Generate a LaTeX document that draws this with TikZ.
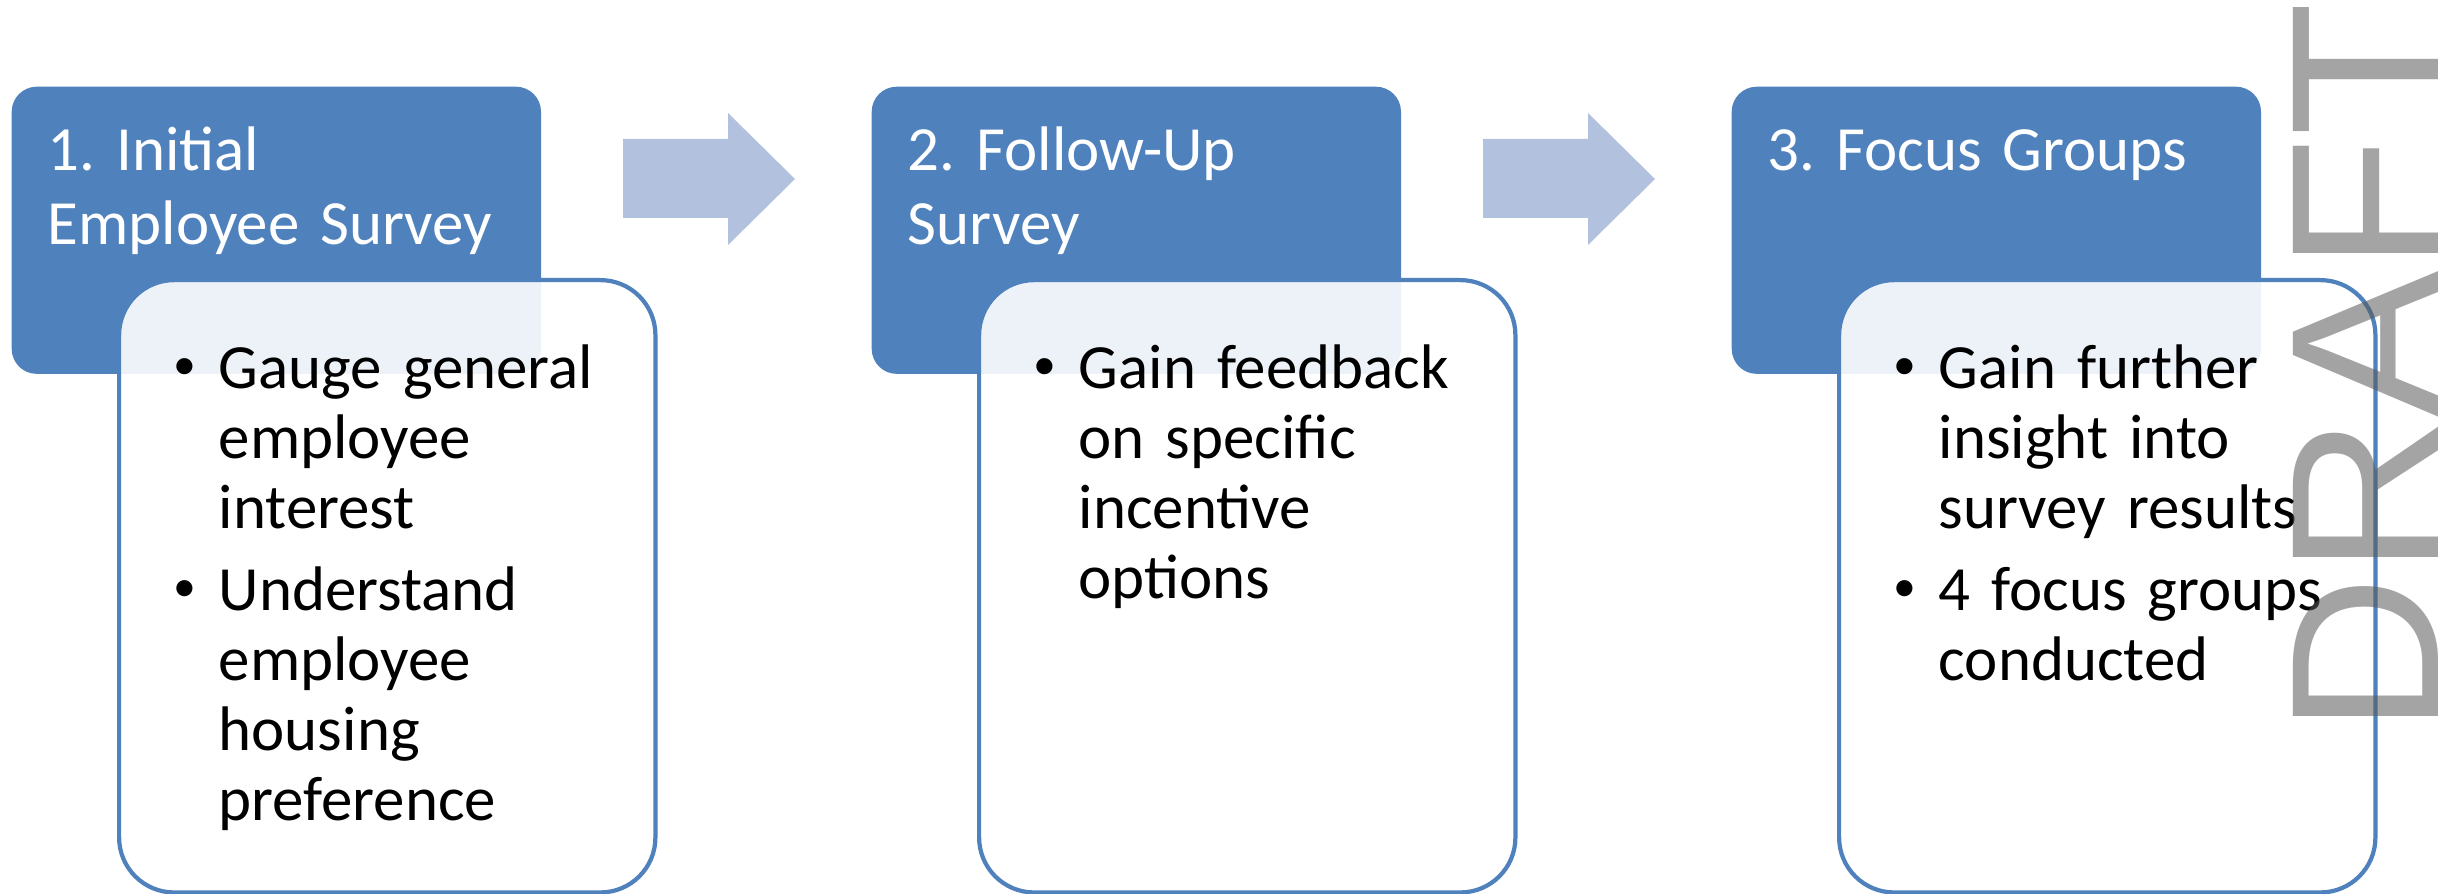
\documentclass[tikz,border=0pt]{standalone}
\usepackage{fontspec}
\setmainfont{Carlito}
\newfontfamily\draftfont{Liberation Sans}
\usetikzlibrary{positioning}
\frenchspacing

\definecolor{stepblue}{HTML}{4F81BD}
\definecolor{arrowblue}{HTML}{B2C1DD}

% one bullet of a body box
\newcommand{\stepitem}[1]{\hangindent=0.35cm\hangafter=1\noindent\makebox[0.35cm][l]{\hspace{-0.1cm}\raisebox{0.09cm}{\fontsize{13}{13}\selectfont\textbullet}}#1\par}

\begin{document}
\begin{tikzpicture}[x=0.01cm,y=-0.01cm,
  headbox/.style={fill=stepblue, rounded corners=0.25cm, minimum width=5.29cm, minimum height=2.87cm, anchor=north west, inner sep=0},
  bodybox/.style={draw=stepblue, line width=1.2pt, fill=white, fill opacity=0.9, rounded corners=0.55cm, minimum width=5.36cm, minimum height=6.12cm, anchor=north west, inner sep=0},
  headtext/.style={text=white, anchor=base west, text width=5cm, inner sep=0, font=\fontsize{17.9}{20.8}\selectfont\raggedright},
  bodytext/.style={anchor=base west, text width=4.7cm, inner sep=0, font=\fontsize{17.9}{19.9}\selectfont\raggedright},
  stepArrow/.style={fill=arrowblue}
]
\useasboundingbox (0,0) rectangle (2438,894);

% step 1
\node[headbox] (head1) at (11,86) {};
\node[bodybox] (body1) at (117,278) {};
\node[headtext] (title1) at (47,171) {1. Initial\newline Employee Survey};
\node[bodytext] (list1) at (183,389) {\stepitem{Gauge general\newline employee\newline interest}\vspace{0.12cm}\stepitem{Understand\newline employee\newline housing\newline preference}};

% step 2
\node[headbox] (head2) at (871,86) {};
\node[bodybox] (body2) at (977,278) {};
\node[headtext] (title2) at (907,171) {2. Follow-Up\newline Survey};
\node[bodytext] (list2) at (1043,389) {\stepitem{Gain feedback\newline on specific\newline incentive\newline options}};

% step 3
\node[headbox] (head3) at (1731,86) {};
\node[bodybox] (body3) at (1837,278) {};
\node[headtext] (title3) at (1767,171) {3. Focus Groups};
\node[bodytext] (list3) at (1903,389) {\stepitem{Gain further\newline insight into\newline survey results}\vspace{0.12cm}\stepitem{4 focus groups\newline conducted}};

% block arrows
\fill[stepArrow] (623,139) -- (728,139) -- (728,113) -- (795,179) -- (728,245) -- (728,218) -- (623,218) -- cycle;
\fill[stepArrow] (1483,139) -- (1588,139) -- (1588,113) -- (1655,179) -- (1588,245) -- (1588,218) -- (1483,218) -- cycle;

% watermark
\node[rotate=90, anchor=base west, inner sep=0, text=black!65, text opacity=0.55, font=\draftfont\fontsize{60}{60}\selectfont] (draft) at (2438,735) {\scalebox{1.04}[1]{DRAFT}};
\end{tikzpicture}
\end{document}
